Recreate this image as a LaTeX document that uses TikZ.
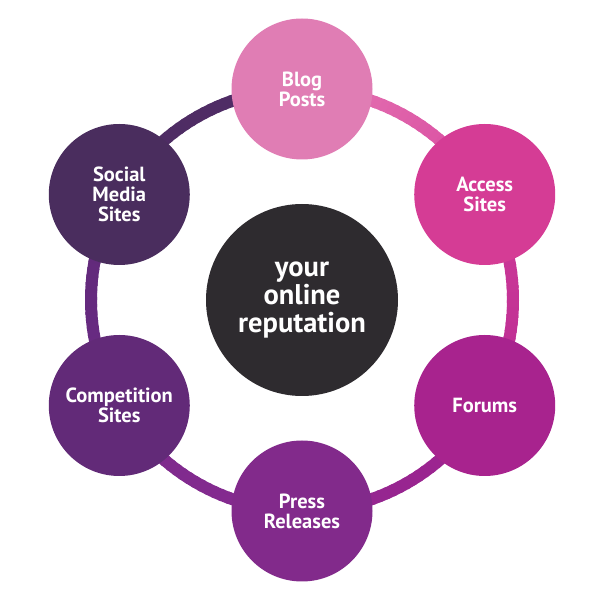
\documentclass[tikz,border=0pt]{standalone}
\usepackage{fontspec}
\setmainfont{PT Sans}
\definecolor{cBlog}{HTML}{E07DB4}
\definecolor{cAccess}{HTML}{D53C95}
\definecolor{cForums}{HTML}{A8238E}
\definecolor{cPress}{HTML}{822A8B}
\definecolor{cComp}{HTML}{622A78}
\definecolor{cSocial}{HTML}{4A2D5E}
\definecolor{cCenter}{HTML}{2E2B2F}
\definecolor{rA}{HTML}{E577B3}
\definecolor{rB}{HTML}{D8479F}
\definecolor{rC}{HTML}{D03A98}
\definecolor{rD}{HTML}{B92C93}
\definecolor{rE}{HTML}{A3228F}
\definecolor{rF}{HTML}{8E2891}
\definecolor{rG}{HTML}{892A91}
\definecolor{rH}{HTML}{7A2A8B}
\definecolor{rI}{HTML}{6C2A86}
\definecolor{rJ}{HTML}{5E2A76}
\definecolor{rK}{HTML}{4E2C63}
\definecolor{rL}{HTML}{4F2C66}
\tikzset{
  sat/.style={circle, minimum size=141pt, inner sep=0pt, text=white, align=center,
    font=\bfseries\fontsize{20.5}{20}\selectfont},
  hub/.style={circle, minimum size=192pt, inner sep=0pt, text=white, align=center,
    fill=cCenter, font=\bfseries\fontsize{28.5}{28}\selectfont},
  ringseg/.style={line width=12pt}
}
\begin{document}
\begin{tikzpicture}[x=1pt,y=1pt]
\useasboundingbox (0,0) rectangle (600,600);
\coordinate (c) at (302,300);
% ring with gradient segments
\foreach \a/\b/\ca/\cb in {90/30/rA/rB, 30/-30/rC/rD, -30/-90/rE/rF, -90/-150/rG/rH, -150/-210/rI/rJ, 150/90/rK/rL}{
  \foreach \i in {0,...,29}{
    \pgfmathsetmacro\s{\a+(\b-\a)*\i/30}
    \pgfmathsetmacro\e{\a+(\b-\a)*(\i+1.4)/30}
    \pgfmathtruncatemacro\p{100*\i/29}
    \colorlet{tmpc}{\cb!\p!\ca}
    \draw[ringseg, tmpc] ([shift={(c)}]\s:211) arc[start angle=\s, end angle=\e, radius=211];
  }
}
\node[hub] (center) at (c) {your\\online\\reputation\rule[-1pt]{0pt}{1pt}};
\node[sat, fill=cBlog]   (blog)   at ([shift={(c)}]90:211)   {Blog\\Posts};
\node[sat, fill=cAccess] (access) at ([shift={(c)}]30:211)   {Access\\Sites};
\node[sat, fill=cForums] (forums) at ([shift={(c)}]-30:211)  {Forums};
\node[sat, fill=cPress]  (press)  at ([shift={(c)}]-90:211)  {Press\\Releases};
\node[sat, fill=cComp]   (comp)   at ([shift={(c)}]-150:211) {Competition\\Sites};
\node[sat, fill=cSocial] (social) at ([shift={(c)}]150:211)  {Social\\Media\\Sites};
\end{tikzpicture}
\end{document}
